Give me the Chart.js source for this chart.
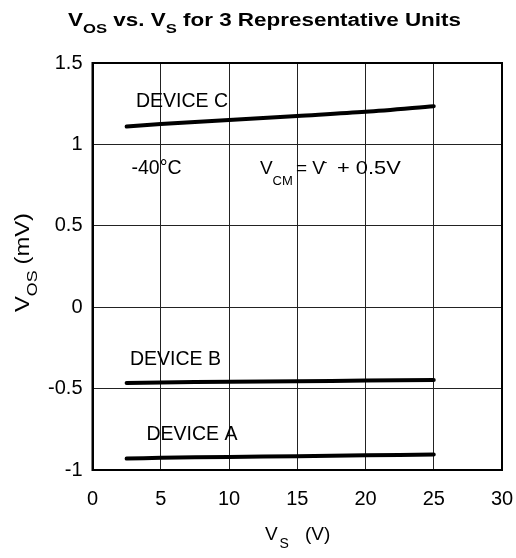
<!DOCTYPE html>
<html>
<head>
<meta charset="utf-8">
<script src="https://cdn.jsdelivr.net/npm/chart.js@4.4.1/dist/chart.umd.min.js"></script>
<style>
  html, body { margin: 0; padding: 0; background: #fff; }
  #wrap { width: 516px; height: 558px; }
</style>
</head>
<body>
<div id="wrap"><canvas id="vosChart" width="516" height="558"></canvas></div>
<script>
// supply voltage (V) and offset voltage (mV)
const supplyV = [2.5, 5, 10, 15, 20, 25];
const deviceA = [-0.93, -0.925, -0.92, -0.915, -0.91, -0.905];
const deviceB = [-0.465, -0.462, -0.458, -0.455, -0.451, -0.447];
const deviceC = [1.11, 1.125, 1.15, 1.175, 1.2, 1.235];
const xTicks = [0, 5, 10, 15, 20, 25, 30];
const yTicks = [-1, -0.5, 0, 0.5, 1, 1.5];

const FONT = '"Liberation Sans", Arial, sans-serif';

function toPoints(ys) {
    return supplyV.map((x, i) => ({ x: x, y: ys[i] }));
}

// text runs: main text + subscripts, drawn one after another
function drawRuns(ctx, x, y, runs, size, bold) {
    let cx = x;
    runs.forEach(r => {
        const s = r.sub ? Math.round(size * 0.74) : size;
        ctx.font = (bold ? 'bold ' : '') + s + 'px ' + FONT;
        const dy = r.sub ? size * 0.38 : 0;
        if (r.gap) cx += r.gap;
        ctx.fillText(r.t, cx, y + dy);
        cx += ctx.measureText(r.t).width;
    });
    return cx - x;
}

function runsWidth(ctx, runs, size, bold) {
    let w = 0;
    runs.forEach(r => {
        const s = r.sub ? Math.round(size * 0.74) : size;
        ctx.font = (bold ? 'bold ' : '') + s + 'px ' + FONT;
        w += ctx.measureText(r.t).width + (r.gap || 0);
    });
    return w;
}

// fit a run list between x0 and x1 by stretching horizontally
function drawFitted(ctx, x0, x1, y, runs, size, bold) {
    const w = runsWidth(ctx, runs, size, bold);
    ctx.save();
    ctx.translate(x0, y);
    ctx.scale((x1 - x0) / w, 1);
    drawRuns(ctx, 0, 0, runs, size, bold);
    ctx.restore();
}

function put(ctx, text, x, y, size) {
    ctx.font = size + 'px ' + FONT;
    ctx.fillText(text, x, y);
}

const textPlugin = {
    id: 'textPlugin',
    afterDraw(chart) {
        const ctx = chart.ctx;
        ctx.save();
        ctx.fillStyle = '#000';
        ctx.textBaseline = 'alphabetic';
        ctx.textAlign = 'left';

        // title
        drawFitted(ctx, 68, 461, 26,
            [{ t: 'V' }, { t: 'OS', sub: true }, { t: ' vs. V' }, { t: 'S', sub: true }, { t: ' for 3 Representative Units' }], 17.5, true);

        // x axis title
        put(ctx, 'V', 265, 540, 19);
        put(ctx, 'S', 279.5, 548, 14);
        put(ctx, '(V)', 305, 540, 19);

        // y axis title (rotated, reads bottom to top)
        ctx.save();
        ctx.translate(29, 312);
        ctx.rotate(-Math.PI / 2);
        drawFitted(ctx, 0, 99, 0,
            [{ t: 'V' }, { t: 'OS', sub: true }, { t: '(mV)', gap: 5 }], 20, false);
        ctx.restore();

        // annotations inside the plot
        put(ctx, 'DEVICE C', 136, 106.5, 19.5);
        put(ctx, '-40°C', 131.5, 174, 19.5);
        put(ctx, 'DEVICE B', 130, 365, 19.5);
        put(ctx, 'DEVICE A', 146.5, 440, 19.5);

        put(ctx, 'V', 260, 174, 19);
        put(ctx, 'CM', 272.5, 185, 13);
        put(ctx, '= V', 296, 174, 19);
        put(ctx, '-', 323, 166, 13);
        ctx.save();
        ctx.translate(337, 174);
        ctx.scale(1.15, 1);
        put(ctx, '+ 0.5V', 0, 0, 19);
        ctx.restore();
        ctx.restore();
    }
};

const ctx = document.getElementById('vosChart').getContext('2d');
const vosChart = new Chart(ctx, {
    type: 'scatter',
    data: {
        datasets: [
            { label: 'Device A', data: toPoints(deviceA) },
            { label: 'Device B', data: toPoints(deviceB) },
            { label: 'Device C', data: toPoints(deviceC) }
        ].map(d => Object.assign(d, {
            showLine: true,
            borderColor: '#000',
            borderWidth: 4,
            pointRadius: 0,
            tension: 0.3,
            borderCapStyle: 'round'
        }))
    },
    options: {
        responsive: false,
        animation: false,
        devicePixelRatio: 1,
        layout: { padding: { left: 0, top: 63, right: 14, bottom: 48 } },
        plugins: {
            legend: { display: false },
            tooltip: { enabled: false }
        },
        scales: {
            x: {
                type: 'linear',
                min: 0,
                max: 30,
                afterBuildTicks: s => { s.ticks = xTicks.map(v => ({ value: v })); },
                afterFit: s => { s.height = 40; s.paddingLeft = 0; s.paddingRight = 0; },
                ticks: {
                    color: '#000',
                    font: { family: FONT, size: 20 },
                    padding: 17,
                    maxRotation: 0,
                    callback: v => String(v)
                },
                grid: { color: '#222', lineWidth: 1, drawTicks: false },
                border: { color: '#000', width: 2 }
            },
            y: {
                type: 'linear',
                min: -1,
                max: 1.5,
                afterBuildTicks: s => { s.ticks = yTicks.map(v => ({ value: v })); },
                afterFit: s => { s.width = 92.5; s.paddingTop = 0; s.paddingBottom = 0; },
                ticks: {
                    color: '#000',
                    font: { family: FONT, size: 20 },
                    padding: 10,
                    callback: v => String(v)
                },
                grid: { color: '#222', lineWidth: 1, drawTicks: false },
                border: { color: '#000', width: 2 }
            }
        }
    },
    plugins: [textPlugin, {
        id: 'frame',
        afterDatasetsDraw(chart) {
            const a = chart.chartArea, c = chart.ctx;
            c.save();
            c.strokeStyle = '#000';
            c.lineWidth = 2;
            c.strokeRect(a.left, a.top, a.right - a.left, a.bottom - a.top);
            c.restore();
        }
    }]
});
</script>
</body>
</html>
